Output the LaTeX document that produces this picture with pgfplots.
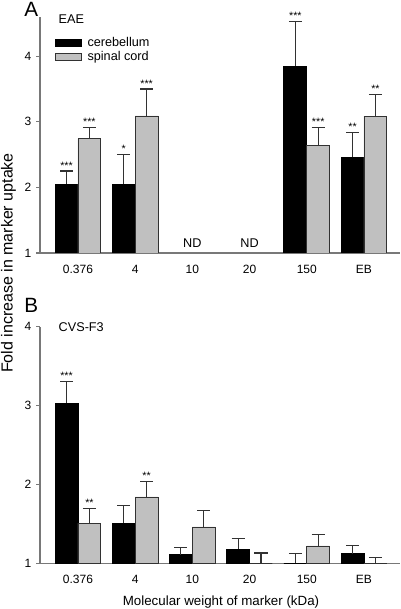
\documentclass[border=0pt]{standalone}
\usepackage{fontspec}
\setmainfont{Liberation Sans}
\usepackage{pgfplots}
\pgfplotsset{compat=1.18}
\definecolor{barGrey}{RGB}{192,192,192}
\definecolor{axGrey}{RGB}{120,120,120}
\definecolor{edge}{RGB}{50,50,50}

\pgfplotsset{
 panel/.style={
  scale only axis, width=270pt, xmin=-0.664, xmax=5.63, ymin=1,
  axis x line*=bottom, axis y line*=left,
  axis line style={axGrey, line width=0.8pt},
  xtick={0,...,5}, xticklabels={0.376,4,10,20,150,EB},
  major x tick style={draw=none},
  ytick={1,2,3,4}, tick align=outside, major tick length=3pt,
  ytick style={axGrey, line width=0.8pt},
  /pgf/number format/assume math mode=true,
  ticklabel style={font=\fontsize{9}{10}\selectfont},
  xticklabel style={yshift=-2.5pt},
 },
 cer/.style={ybar, bar width=0.4, bar shift=0pt, fill=black, draw=black, line width=0.6pt,
   legend image code/.code={\draw[fill=black, draw=black] (0pt,-2.6pt) rectangle (19.5pt,2.6pt); \path (22.5pt,0pt);},
   error bars/.cd, y dir=plus, y explicit,
   error bar style={edge, line width=0.8pt},
   error mark options={rotate=90, edge, line width=0.8pt, mark size=4.9pt}},
 spi/.style={ybar, bar width=0.4, bar shift=0pt, fill=barGrey, draw=edge, line width=0.6pt,
   legend image code/.code={\draw[fill=barGrey, draw=edge, line width=0.6pt] (0pt,-2.6pt) rectangle (19.5pt,2.6pt); \path (22.5pt,0pt);},
   error bars/.cd, y dir=plus, y explicit,
   error bar style={edge, line width=0.8pt},
   error mark options={rotate=90, edge, line width=0.8pt, mark size=4.9pt}},
 stars/.style={draw=none, mark=none, forget plot, nodes near coords, point meta=explicit symbolic,
   every node near coord/.append style={anchor=base, font=\fontsize{8}{9}\selectfont, inner sep=0pt, yshift=1.5pt, text=black}},
 ndlab/.style={draw=none, mark=none, forget plot, nodes near coords, point meta=explicit symbolic,
   every node near coord/.append style={anchor=center, font=\fontsize{9.5}{10}\selectfont, inner sep=0pt, text=black}},
}

\begin{document}
\begin{tikzpicture}
\path[use as bounding box] (0pt,0pt) rectangle (300pt,456.75pt);

% Panel A
\begin{axis}[panel, at={(30pt,267pt)}, anchor=south west, height=177.1pt, ymax=4.6,
  legend style={at={(axis description cs:0.042,0.92)}, anchor=north west, draw=none, fill=none,
    inner sep=0pt, row sep=0pt, font=\fontsize{9.5}{11}\selectfont, legend cell align=left,
    nodes={inner sep=1pt}}]
\addplot[cer] coordinates {(-0.2,2.05) +- (0,0.20) (0.8,2.05) +- (0,0.45) (3.8,3.85) +- (0,0.68) (4.8,2.46) +- (0,0.37)};
\addlegendentry{cerebellum}
\addplot[spi] coordinates {(0.2,2.745) +- (0,0.175) (1.2,3.09) +- (0,0.41) (4.2,2.64) +- (0,0.28) (5.2,3.085) +- (0,0.335)};
\addlegendentry{spinal cord}
\addplot[stars] coordinates {(-0.2,2.25)[***] (0.8,2.50)[*] (3.8,4.53)[***] (4.8,2.83)[**]
  (0.2,2.92)[***] (1.2,3.50)[***] (4.2,2.92)[***] (5.2,3.42)[**]};
\addplot[ndlab] coordinates {(2,1.15)[ND] (3,1.15)[ND]};
\end{axis}

% Panel B
\begin{axis}[panel, at={(30pt,34.3pt)}, anchor=south west, height=177.5pt, ymax=4]
\addplot[cer] coordinates {(-0.2,3.03) +- (0,0.27) (0.8,1.51) +- (0,0.22) (1.8,1.11) +- (0,0.09) (2.8,1.18) +- (0,0.13) (3.8,1.0) +- (0,0.12) (4.8,1.12) +- (0,0.11)};
\addplot[spi] coordinates {(0.2,1.51) +- (0,0.19) (1.2,1.84) +- (0,0.195) (2.2,1.46) +- (0,0.21) (3.2,1.0) +- (0,0.13) (4.2,1.22) +- (0,0.15) (5.2,1.0) +- (0,0.07)};
\addplot[stars] coordinates {(-0.2,3.30)[***] (0.2,1.70)[**] (1.2,2.035)[**]};
\end{axis}

\node[anchor=west, font=\fontsize{9.5}{11}\selectfont] at (40.5pt,442.5pt) {EAE};
\node[anchor=west, font=\fontsize{9.5}{11}\selectfont] at (40.5pt,211.5pt) {CVS-F3};
\node[anchor=base west, inner sep=0pt, font=\fontsize{15.5}{17}\selectfont] at (18pt,444pt) {A};
\node[anchor=base west, inner sep=0pt, font=\fontsize{15.5}{17}\selectfont] at (18pt,222pt) {B};
\node[rotate=90, anchor=base, inner sep=0pt, font=\fontsize{12}{14}\selectfont] at (9.4pt,259.5pt) {Fold increase in marker uptake};
\node[anchor=center, inner sep=0pt, font=\fontsize{10}{12}\selectfont] at (165.75pt,5.5pt) {Molecular weight of marker (kDa)};
\end{tikzpicture}
\end{document}
